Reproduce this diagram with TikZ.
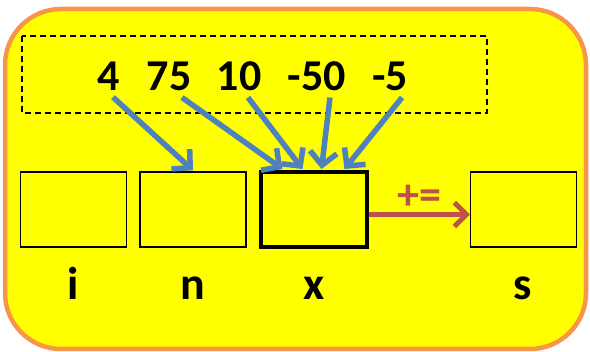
\documentclass[tikz,border=0pt]{standalone}
\usepackage{fontspec}
\setmainfont{Carlito}
\usetikzlibrary{arrows.meta}
\tikzset{>=Stealth}
\definecolor{panelyellow}{RGB}{255,255,0}
\definecolor{panelorange}{RGB}{247,150,70}
\definecolor{arrowblue}{RGB}{79,129,189}
\definecolor{arrowred}{RGB}{192,80,77}
\tikzset{
    varbox/.style={draw, line width=1.3pt, minimum width=106pt, minimum height=75pt, inner sep=0pt},
    value/.style={font=\fontsize{44}{50}\selectfont\bfseries, inner sep=0pt, anchor=base},
    varname/.style={font=\fontsize{46}{50}\selectfont\bfseries, inner sep=0pt, anchor=base},
    assign/.style={arrowblue, line width=5.5pt, -{Straight Barb[length=13pt,width=27pt]}},
    addto/.style={arrowred, line width=5pt, -{Straight Barb[length=12pt,width=24pt]}}
}

\begin{document}
\begin{tikzpicture}[x=1pt,y=-1pt]
    \useasboundingbox (0,0) rectangle (590,352);
    \draw[panelorange, fill=panelyellow, line width=4.5pt, rounded corners=56pt] (5,9) rectangle (586,349);
    \draw[line width=1.3pt, dash pattern=on 6pt off 4pt] (22,36) rectangle (487,113);
    \node[value] at (109,91) (v4) {4};
    \node[value] at (169,91) (v75) {75};
    \node[value] at (239,91) (v10) {10};
    \node[value] at (317,91) (vm50) {-50};
    \node[value] at (390,91) (vm5) {-5};
    \node[varbox] at (73.5,209.5) (bi) {};
    \node[varbox] at (193,209.5) (bn) {};
    \node[varbox, line width=4pt] at (313.5,209.5) (bx) {};
    \node[varbox] at (523.5,209.5) (bs) {};
    \node[varname] at (73,300) (li) {i};
    \node[varname] at (193,300) (ln) {n};
    \node[varname] at (314,300) (lx) {x};
    \node[varname] at (523,300) (ls) {s};
    \draw[assign] ([shift={(4,6)}]v4.south) -- ([yshift=1pt]bn.north);
    \draw[assign] ([shift={(13,6)}]v75.south) -- ([shift={(-31,-1)}]bx.north);
    \draw[assign] ([shift={(9,6)}]v10.south) -- ([shift={(-11,-1)}]bx.north);
    \draw[assign] ([shift={(13,6)}]vm50.south) -- ([shift={(8,-1)}]bx.north);
    \draw[assign] ([shift={(12,6)}]vm5.south) -- ([shift={(31,-1)}]bx.north);
    \draw[addto] ([yshift=-5pt]bx.east) -- node[above, arrowred, font=\fontsize{44}{48}\selectfont\bfseries, inner sep=0pt, yshift=2pt] {+=} ([yshift=-5pt]bs.west);
\end{tikzpicture}
\end{document}
